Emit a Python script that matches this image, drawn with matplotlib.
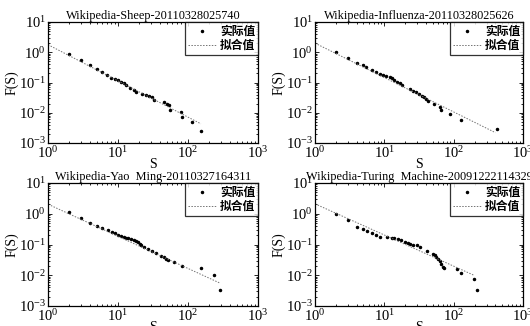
import matplotlib
matplotlib.use('Agg')
import matplotlib.pyplot as plt
from matplotlib.ticker import LogLocator, NullFormatter

plt.rcParams['font.family'] = ['Liberation Serif', 'DejaVu Serif']
plt.rcParams['mathtext.fontset'] = 'cm'

titles = ['Wikipedia-Sheep-20110328025740',
          'Wikipedia-Influenza-20110328025626',
          'Wikipedia-Yao  Ming-20110327164311',
          'Wikipedia-Turing  Machine-20091222114329']
legend_labels = ['实际值', '拟合值']

sheep_s = [2, 3, 4, 5, 6, 7, 8, 9, 10, 11, 12, 13, 15, 17, 18, 22, 25, 28, 31, 33,
           46, 50, 53, 55, 79, 82, 114, 153]
sheep_f = [0.90, 0.56, 0.38, 0.29, 0.22, 0.18, 0.145, 0.126, 0.117, 0.107, 0.097,
           0.085, 0.066, 0.056, 0.049, 0.041, 0.038, 0.035, 0.032, 0.026,
           0.023, 0.020, 0.018, 0.0127, 0.0102, 0.0075, 0.005, 0.00245]
sheep_fit_s = [1.0, 153]
sheep_fit_f = [1.78, 0.0043]

flu_s = [2, 3, 4, 5, 5.5, 6.7, 7.7, 8.8, 9.6, 10.7, 11.9, 12.9, 13.9, 15.2, 16.6,
         17.9, 23.5, 26.2, 28.6, 32, 34.6, 37.3, 39.8, 43, 52.4, 63, 66, 87.5, 129, 417]
flu_f = [1.0, 0.64, 0.45, 0.37, 0.32, 0.25, 0.22, 0.19, 0.18, 0.17, 0.15, 0.136,
         0.123, 0.107, 0.095, 0.083, 0.061, 0.054, 0.049, 0.042, 0.037, 0.032,
         0.028, 0.024, 0.019, 0.015, 0.012, 0.0093, 0.0058, 0.0029]
flu_fit_s = [1.0, 400]
flu_fit_f = [2.0, 0.0022]

yao_s = [2, 3, 4, 5, 6, 7.1, 8.1, 9.1, 10, 11, 12, 13, 14, 15.4, 16.8, 18.2, 19.1,
         20.3, 21.4, 23.9, 26.7, 30.4, 35, 41.4, 45, 49, 52.6, 63, 82, 155, 236, 284]
yao_f = [1.1, 0.72, 0.51, 0.39, 0.34, 0.30, 0.26, 0.23, 0.21, 0.195, 0.18, 0.166,
         0.158, 0.149, 0.141, 0.131, 0.117, 0.105, 0.095, 0.083, 0.072, 0.062,
         0.052, 0.043, 0.038, 0.034, 0.031, 0.027, 0.020, 0.017, 0.0105, 0.0033]
yao_fit_s = [1.1, 284]
yao_fit_f = [1.85, 0.0056]

tur_s = [2, 3, 4, 5, 5.6, 6.6, 7.6, 8.8, 11, 12.9, 13.9, 15.5, 17.3, 20, 21.6, 23.5,
         26.2, 29.9, 33, 41.6, 49.6, 53.5, 56.5, 59.7, 63, 66.5, 70.5, 72.8, 112,
         129, 194, 214]
tur_f = [0.95, 0.64, 0.38, 0.33, 0.27, 0.24, 0.21, 0.18, 0.18, 0.16, 0.157, 0.148,
         0.141, 0.123, 0.114, 0.105, 0.1, 0.093, 0.081, 0.063, 0.048, 0.044, 0.040,
         0.035, 0.029, 0.023, 0.019, 0.0166, 0.0158, 0.0115, 0.0077, 0.0034]
tur_fit_s = [1.0, 200]
tur_fit_f = [2.1, 0.0098]

panels = [
    (sheep_s, sheep_f, sheep_fit_s, sheep_fit_f),
    (flu_s, flu_f, flu_fit_s, flu_fit_f),
    (yao_s, yao_f, yao_fit_s, yao_fit_f),
    (tur_s, tur_f, tur_fit_s, tur_fit_f),
]

W, H = 530, 326
fig = plt.figure(figsize=(W / 100, H / 100), dpi=100)
fig.patch.set_facecolor('white')

boxes = [(48, 22, 258, 143), (315, 22, 523, 143),
         (48, 183, 258, 306), (315, 183, 523, 306)]

for (x0, y0, x1, y1), title, (s, f, fs, ff) in zip(boxes, titles, panels):
    ax = fig.add_axes([x0 / W, 1 - y1 / H, (x1 - x0) / W, (y1 - y0) / H])
    ax.plot(s, f, '.', color='black', markersize=3, label=legend_labels[0])
    ax.plot(fs, ff, linestyle=(0, (1.5, 1.5)), color='0.45', linewidth=0.7,
            label=legend_labels[1])
    ax.set_xscale('log')
    ax.set_yscale('log')
    ax.set_xlim(1, 1000)
    ax.set_ylim(1e-3, 10)
    ax.xaxis.set_major_locator(LogLocator(base=10, numticks=10))
    ax.yaxis.set_major_locator(LogLocator(base=10, numticks=10))
    ax.xaxis.set_minor_locator(LogLocator(base=10, subs=range(2, 10), numticks=20))
    ax.yaxis.set_minor_locator(LogLocator(base=10, subs=range(2, 10), numticks=20))
    ax.xaxis.set_minor_formatter(NullFormatter())
    ax.yaxis.set_minor_formatter(NullFormatter())
    ax.tick_params(which='both', direction='in', top=True, right=True,
                   labelsize=10.5, width=0.6, pad=1.5)
    ax.tick_params(which='major', length=3)
    ax.tick_params(which='minor', length=1.5)
    for sp in ax.spines.values():
        sp.set_linewidth(0.9)
    ax.set_title(title, fontsize=8.8, pad=2)
    ax.set_xlabel('S', fontsize=10, labelpad=-2)
    ax.set_ylabel('F(S)', fontsize=10, labelpad=0)
    leg = ax.legend(loc='upper right', fancybox=False, frameon=True,
                    prop={'family': ['Noto Sans CJK SC'], 'size': 8.5, 'weight': 'bold'},
                    borderpad=0.25, labelspacing=0.1, handlelength=2.4,
                    handletextpad=0.3, borderaxespad=0.0, markerscale=1.0)
    leg.get_frame().set_edgecolor('black')
    leg.get_frame().set_linewidth(0.9)

fig.savefig('out.png', dpi=100, facecolor='white')
